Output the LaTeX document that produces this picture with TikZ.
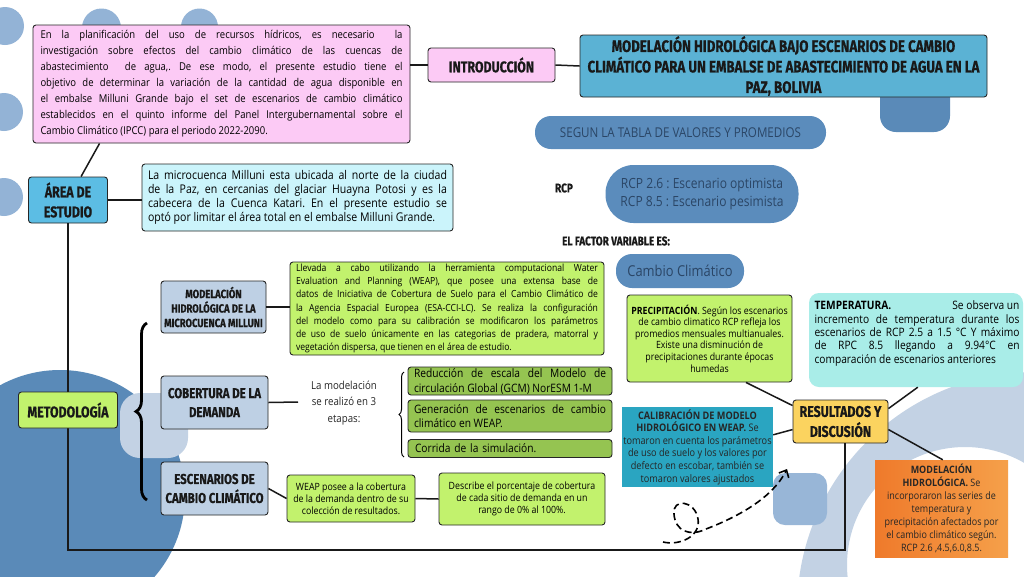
\documentclass[tikz,border=0pt]{standalone}
\usepackage{fontspec}
\setmainfont{Open Sans}
\newfontfamily\bodyf[FakeStretch=0.88]{Open Sans}
\newfontfamily\headf[FakeStretch=0.8,FakeBold=0.5]{Fira Sans}
\newfontfamily\pillf[FakeStretch=0.86]{Open Sans}
\usetikzlibrary{decorations.pathreplacing,calc,arrows.meta}
\frenchspacing
\definecolor{pinkc}{HTML}{FCCAF5}
\definecolor{titlec}{HTML}{5BB2D4}
\definecolor{areac}{HTML}{5CBDE4}
\definecolor{cyanc}{HTML}{CBF4FB}
\definecolor{limec}{HTML}{C2F26D}
\definecolor{subc}{HTML}{BED0E4}
\definecolor{olivc}{HTML}{95C451}
\definecolor{steelc}{HTML}{5B8CBC}
\definecolor{darkc}{HTML}{5A8AB8}
\definecolor{lightbg}{HTML}{C3D2E4}
\definecolor{midsq}{HTML}{98B6D7}
\definecolor{tealc}{HTML}{2AA5C1}
\definecolor{aquac}{HTML}{A9EDE8}
\definecolor{yellc}{HTML}{FBD35F}
\definecolor{circc}{HTML}{93B3D6}
\definecolor{pilltext}{HTML}{2B4666}
\definecolor{orangeA}{HTML}{EF7A2B}
\definecolor{orangeB}{HTML}{F5A04A}
\begin{document}
\begin{tikzpicture}[x=1pt,y=-1pt,
  box/.style={draw=black!85, line width=0.9pt, rounded corners=3pt, inner sep=0pt},
  head/.style={font=\headf\bfseries, align=center, text=black!90},
  conn/.style={line width=1.5pt, black!90},
  pill/.style={fill=steelc, inner sep=0pt, text=pilltext, align=center},
  plain/.style={inner sep=0pt, align=center}]
\useasboundingbox (0,0) rectangle (1024,576);
\clip (0,0) rectangle (1024,576);
\fill[white] (0,0) rectangle (1024,576);
% background shapes
\fill[circc] (5,26) circle[radius=19pt];
\fill[circc] (101.5,28) circle[radius=19.5pt];
\fill[circc] (199.5,27) circle[radius=18.5pt];
\fill[circc] (4,112) circle[radius=19pt];
\fill[circc] (4,197) circle[radius=19pt];
\fill[darkc] (60,495) circle[radius=125pt];
\fill[lightbg, rounded corners=20pt] (120,393) rectangle (188,458);
\fill[lightbg, even odd rule] (1035,610) circle[radius=238pt] (965,565) circle[radius=118pt];
\fill[midsq, rounded corners=12pt] (773,473) rectangle (827,525);
\fill[darkc, rounded corners=16pt] (880,60) rectangle (950,132);
% coordinates
\coordinate (cornerBR) at (845,550);
\coordinate (m2end) at (298,402);
\coordinate (d0) at (663,542);
\coordinate (d1) at (698,519);
\coordinate (d2) at (674,514);
\coordinate (d3) at (706,529);
\coordinate (d4) at (787,469);
% nodes
\node[box, fill=pinkc, minimum width=377, minimum height=118, text width=362, align=justify,
  font=\bodyf\fontsize{10.8}{16}\selectfont] (intro) at (221.5,84)
 {En la planificación del uso de recursos hídricos, es necesario~ la\linebreak
  investigación sobre efectos del cambio climático de las cuencas de\linebreak
  abastecimiento~ de agua,. De ese modo, el presente estudio tiene el\linebreak
  objetivo de determinar la variación de la cantidad de agua disponible en\linebreak
  el embalse Milluni Grande bajo el set de escenarios de cambio climático\linebreak
  establecidos en el quinto informe del Panel Intergubernamental sobre el\linebreak
  Cambio Climático (IPCC) para el periodo 2022-2090.};
\node[box, fill=pinkc, minimum width=127, minimum height=34, head,
  font=\headf\bfseries\fontsize{15.5}{19}\selectfont] (introlab) at (491.5,65) {INTRODUCCIÓN};
\node[box, fill=titlec, minimum width=407, minimum height=62, head,
  font=\headf\bfseries\fontsize{16.6}{20.5}\selectfont] (title) at (783.5,66)
 {MODELACIÓN HIDROLÓGICA BAJO ESCENARIOS DE CAMBIO\\
  CLIMÁTICO PARA UN EMBALSE DE ABASTECIMIENTO DE AGUA EN LA\\
  PAZ, BOLIVIA};
\node[pill, minimum width=291, minimum height=33, rounded corners=16pt,
  font=\pillf\fontsize{13.5}{16}\selectfont] (segun) at (680.5,132.5)
 {SEGUN LA TABLA DE VALORES Y PROMEDIOS};
\node[plain, head, font=\headf\bfseries\fontsize{12.5}{14}\selectfont] (rcplab) at (564,188) {RCP};
\node[pill, minimum width=193, minimum height=58, rounded corners=28pt,
  font=\pillf\fontsize{14}{18.5}\selectfont] (rcp) at (702,194)
 {RCP 2.6 : Escenario optimista\\ RCP 8.5 : Escenario pesimista};
\node[plain, head, font=\headf\bfseries\fontsize{12.5}{14}\selectfont] (factor) at (616,241) {EL FACTOR VARIABLE ES:};
\node[pill, minimum width=128, minimum height=34, rounded corners=16pt,
  font=\pillf\fontsize{15}{18}\selectfont] (cambio) at (680,271) {Cambio Climático};
\node[box, fill=areac, minimum width=79, minimum height=46, head,
  font=\headf\bfseries\fontsize{15.5}{20}\selectfont] (arealab) at (68,200) {ÁREA DE\\ ESTUDIO};
\node[box, fill=cyanc, minimum width=311, minimum height=67, text width=299, align=justify,
  font=\bodyf\fontsize{12}{13.8}\selectfont] (areatxt) at (297.5,197.5)
 {La microcuenca Milluni esta ubicada al norte de la ciudad\linebreak
  de la Paz, en cercanias del glaciar Huayna Potosi y es la\linebreak
  cabecera de la Cuenca Katari. En el presente estudio se\linebreak
  optó por limitar el área total en el embalse Milluni Grande.};
\node[box, fill=yellc, minimum width=95, minimum height=43, head,
  font=\headf\bfseries\fontsize{15.5}{20}\selectfont] (result) at (840.5,421.5) {RESULTADOS Y\\ DISCUSIÓN};
\draw[conn] (arealab.south) |- (cornerBR) -- (cornerBR |- result.south);
\draw[conn] (intro.east |- introlab.west) -- (introlab.west);
\draw[conn] (introlab.east) -- (title.west);
\draw[conn] ($(intro.south west)+(67,0)$) -- ($(arealab.north west)+(53,0)$);
\draw[conn] (arealab.east) -- (arealab.east -| areatxt.west);
\node[box, fill=limec, minimum width=99, minimum height=36, head,
  font=\headf\bfseries\fontsize{15.5}{19}\selectfont] (metod) at (68,410) {METODOLOGÍA};
\draw[line width=2.8pt, decorate, decoration={brace, amplitude=11pt}] (147,500) -- (147,323);
% sub boxes
\node[box, fill=subc, minimum width=105, minimum height=52, head,
  font=\headf\bfseries\fontsize{11.8}{14.5}\selectfont] (sub1) at (213.5,307)
 {MODELACIÓN\\ HIDROLÓGICA DE LA\\ MICROCUENCA MILLUNI};
\node[box, fill=subc, minimum width=107, minimum height=53, head,
  font=\headf\bfseries\fontsize{14.3}{19}\selectfont] (sub2) at (214.5,402.5)
 {COBERTURA DE LA\\ DEMANDA};
\node[box, fill=subc, minimum width=107, minimum height=53, head,
  font=\headf\bfseries\fontsize{14.3}{19}\selectfont] (sub3) at (214.5,488.5)
 {ESCENARIOS DE\\ CAMBIO CLIMÁTICO};
\node[box, fill=limec, minimum width=314, minimum height=93, text width=302, align=justify,
  font=\bodyf\fontsize{9.8}{13.3}\selectfont] (green1) at (447,308.5)
 {Llevada a cabo utilizando la herramienta computacional Water\linebreak
  Evaluation and Planning (WEAP), que posee una extensa base de\linebreak
  datos de Iniciativa de Cobertura de Suelo para el Cambio Climático de\linebreak
  la Agencia Espacial Europea (ESA-CCI-LC). Se realiza la configuración\linebreak
  del modelo como para su calibración se modificaron los parámetros\linebreak
  de uso de suelo únicamente en las categorias de pradera, matorral y\linebreak
  vegetación dispersa, que tienen en el área de estudio.};
\draw[conn] (sub1.east) -- (sub1.east -| green1.west);
\node[plain, font=\bodyf\fontsize{11}{16.5}\selectfont, text=black!85] (modtext) at (344,403)
 {La modelación\\ se realizó en 3\\ etapas:};
\draw[conn] (sub2.east) -- (m2end);
\draw[line width=1pt, decorate, decoration={brace, amplitude=5pt}] (404,457) -- (404,372);
\node[box, fill=olivc, minimum width=204, minimum height=28, text width=192, align=justify,
  font=\bodyf\fontsize{11.6}{15}\selectfont] (dg1) at (510,381)
 {Reducción de escala del Modelo de\linebreak circulación Global (GCM) NorESM 1-M};
\node[box, fill=olivc, minimum width=204, minimum height=32, text width=192, align=justify,
  font=\bodyf\fontsize{11.6}{14.5}\selectfont] (dg2) at (510,416)
 {Generación de escenarios de cambio\linebreak climático en WEAP.};
\node[box, fill=olivc, minimum width=204, minimum height=18, text width=190, align=left,
  font=\bodyf\fontsize{11.6}{14}\selectfont] (dg3) at (510,448.5)
 {Corrida de la simulación.};
\node[box, fill=limec, minimum width=128, minimum height=47, align=center,
  font=\bodyf\fontsize{10}{12}\selectfont] (weap) at (351,498.5)
 {WEAP posee a la cobertura\\ de la demanda dentro de su\\ colección de resultados.};
\node[box, fill=limec, minimum width=166, minimum height=52, align=center,
  font=\bodyf\fontsize{10}{12}\selectfont] (desc) at (522,499)
 {Describe el porcentaje de cobertura\\ de cada sitio de demanda en un\\ rango de 0\% al 100\%.};
\draw[conn] (sub3.east) -- (weap.west);
\draw[conn] (weap.east) -- (desc.west);
% right side
\node[box, fill=limec, minimum width=165, minimum height=87, align=center,
  font=\bodyf\fontsize{10}{11.6}\selectfont] (precip) at (709.5,338.5)
 {\textbf{PRECIPITACIÓN}. Según los escenarios\\ de cambio climatico RCP refleja los\\
  promedios mensuales multianuales.\\ Existe una disminución de\\
  precipitaciones durante épocas\\ humedas};
\node[fill=aquac, rounded corners=10pt, inner sep=0pt, minimum width=214, minimum height=94] (temp) at (916,340) {};
\node[anchor=north, inner sep=0pt, text width=205, align=justify,
  font=\bodyf\fontsize{11.6}{13.3}\selectfont] (temptxt) at ($(temp.north)+(1,8)$)
 {\textbf{TEMPERATURA.}\hfill Se observa un\linebreak
  incremento de temperatura durante los\linebreak
  escenarios de RCP 2.5 a 1.5 °C Y máximo\linebreak
  de RPC 8.5 llegando a 9.94°C en\linebreak
  comparación de escenarios anteriores};
\node[fill=tealc, inner sep=0pt, minimum width=151, minimum height=80, align=center,
  text=black!85, font=\bodyf\fontsize{10.4}{12.6}\selectfont] (calib) at (697.5,447)
 {\textbf{CALIBRACIÓN DE MODELO}\\ \textbf{HIDROLÓGICO EN WEAP.} Se\\
  tomaron en cuenta los parámetros\\ de uso de suelo y los valores por\\
  defecto en escobar, también se\\ tomaron valores ajustados};
\node[left color=orangeA, right color=orangeB, inner sep=0pt, minimum width=133, minimum height=97,
  align=center, text=black!85, font=\bodyf\fontsize{10.2}{13}\selectfont] (orange) at (941.5,508.5)
 {\textbf{MODELACIÓN}\\ \textbf{HIDROLÓGICA.} Se\\ incorporaron las series de\\ temperatura y\\
  precipitación afectados por\\ el cambio climático según.\\ RCP 2.6 ,4.5,6.0,8.5.};
\draw[conn] ($(precip.south west)!0.72!(precip.south east)$) -- ($(result.north west)+(0,6)$);
\draw[conn] ($(calib.north east)+(0,28)$) -- ($(result.north west)+(0,30)$);
\draw[conn] ($(result.north east)+(0,9)$) -- ($(temp.south west)+(109,0)$);
\draw[conn] ($(result.north east)+(0,30)$) -- ($(orange.north west)+(68,0)$);
% dashed loop arrow
\draw[line width=1.6pt, dash pattern=on 7pt off 4pt, -{Straight Barb[length=6pt,width=11pt]}]
  (d0) .. controls (680,546) and (701,536) .. (d1)
       .. controls (695,500) and (672,498) .. (d2)
       .. controls (675,531) and (690,537) .. (d3)
       .. controls (740,516) and (773,497) .. (d4);
\end{tikzpicture}
\end{document}
